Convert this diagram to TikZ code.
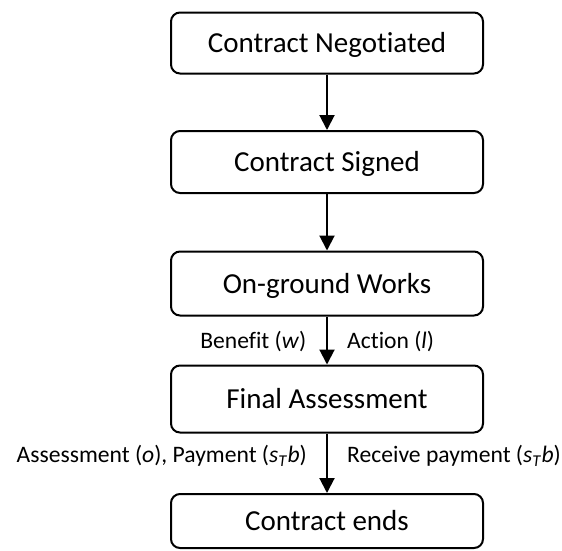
\documentclass[tikz,border=0pt]{standalone}
\usepackage{fontspec}
\setmainfont{Carlito}[Ligatures=CommonOff]
\usetikzlibrary{arrows.meta}
\begin{document}
\begin{tikzpicture}[x=1pt,y=-1pt,
  box/.style={draw, line width=2pt, rounded corners=9pt, minimum width=312pt, inner sep=0pt,
    font=\fontsize{29}{34}\selectfont, text height=19pt, text depth=0pt},
  conn/.style={line width=2pt, -{Triangle[width=15pt,length=15pt]}},
  lbl/.style={font=\fontsize{23.6}{28}\selectfont, inner sep=0pt, text height=15pt, text depth=0pt}]
\useasboundingbox (0,0) rectangle (562,550);
\node[box, minimum height=61pt] (n1) at (327,43) {Contract Negotiated};
\node[box, minimum height=62pt] (n2) at (327,162) {Contract Signed};
\node[box, minimum height=64pt] (n3) at (327,283.5) {On-ground Works};
\node[box, minimum height=67pt] (n4) at (327,399) {Final Assessment};
\node[box, minimum height=54pt] (n5) at (327,521) {Contract ends};
\draw[conn] (n1.south) -- (n2.north);
\draw[conn] (n2.south) -- (n3.north);
\draw[conn] (n3.south) -- (n4.north);
\draw[conn] (n4.south) -- (n5.north);
\node[lbl, anchor=east] (l1) at (306.5,341) {Benefit (\textit{w})};
\node[lbl, anchor=west] (l2) at (347,341) {Action (\textit{l})};
\node[lbl, anchor=east] (l3) at (307,455) {Assessment (\textit{o}), Payment (\textit{s}\textsubscript{\textit{T}}\textit{b})};
\node[lbl, anchor=west] (l4) at (347,455) {Receive payment (\textit{s}\textsubscript{\textit{T}}\textit{b})};
\end{tikzpicture}
\end{document}
